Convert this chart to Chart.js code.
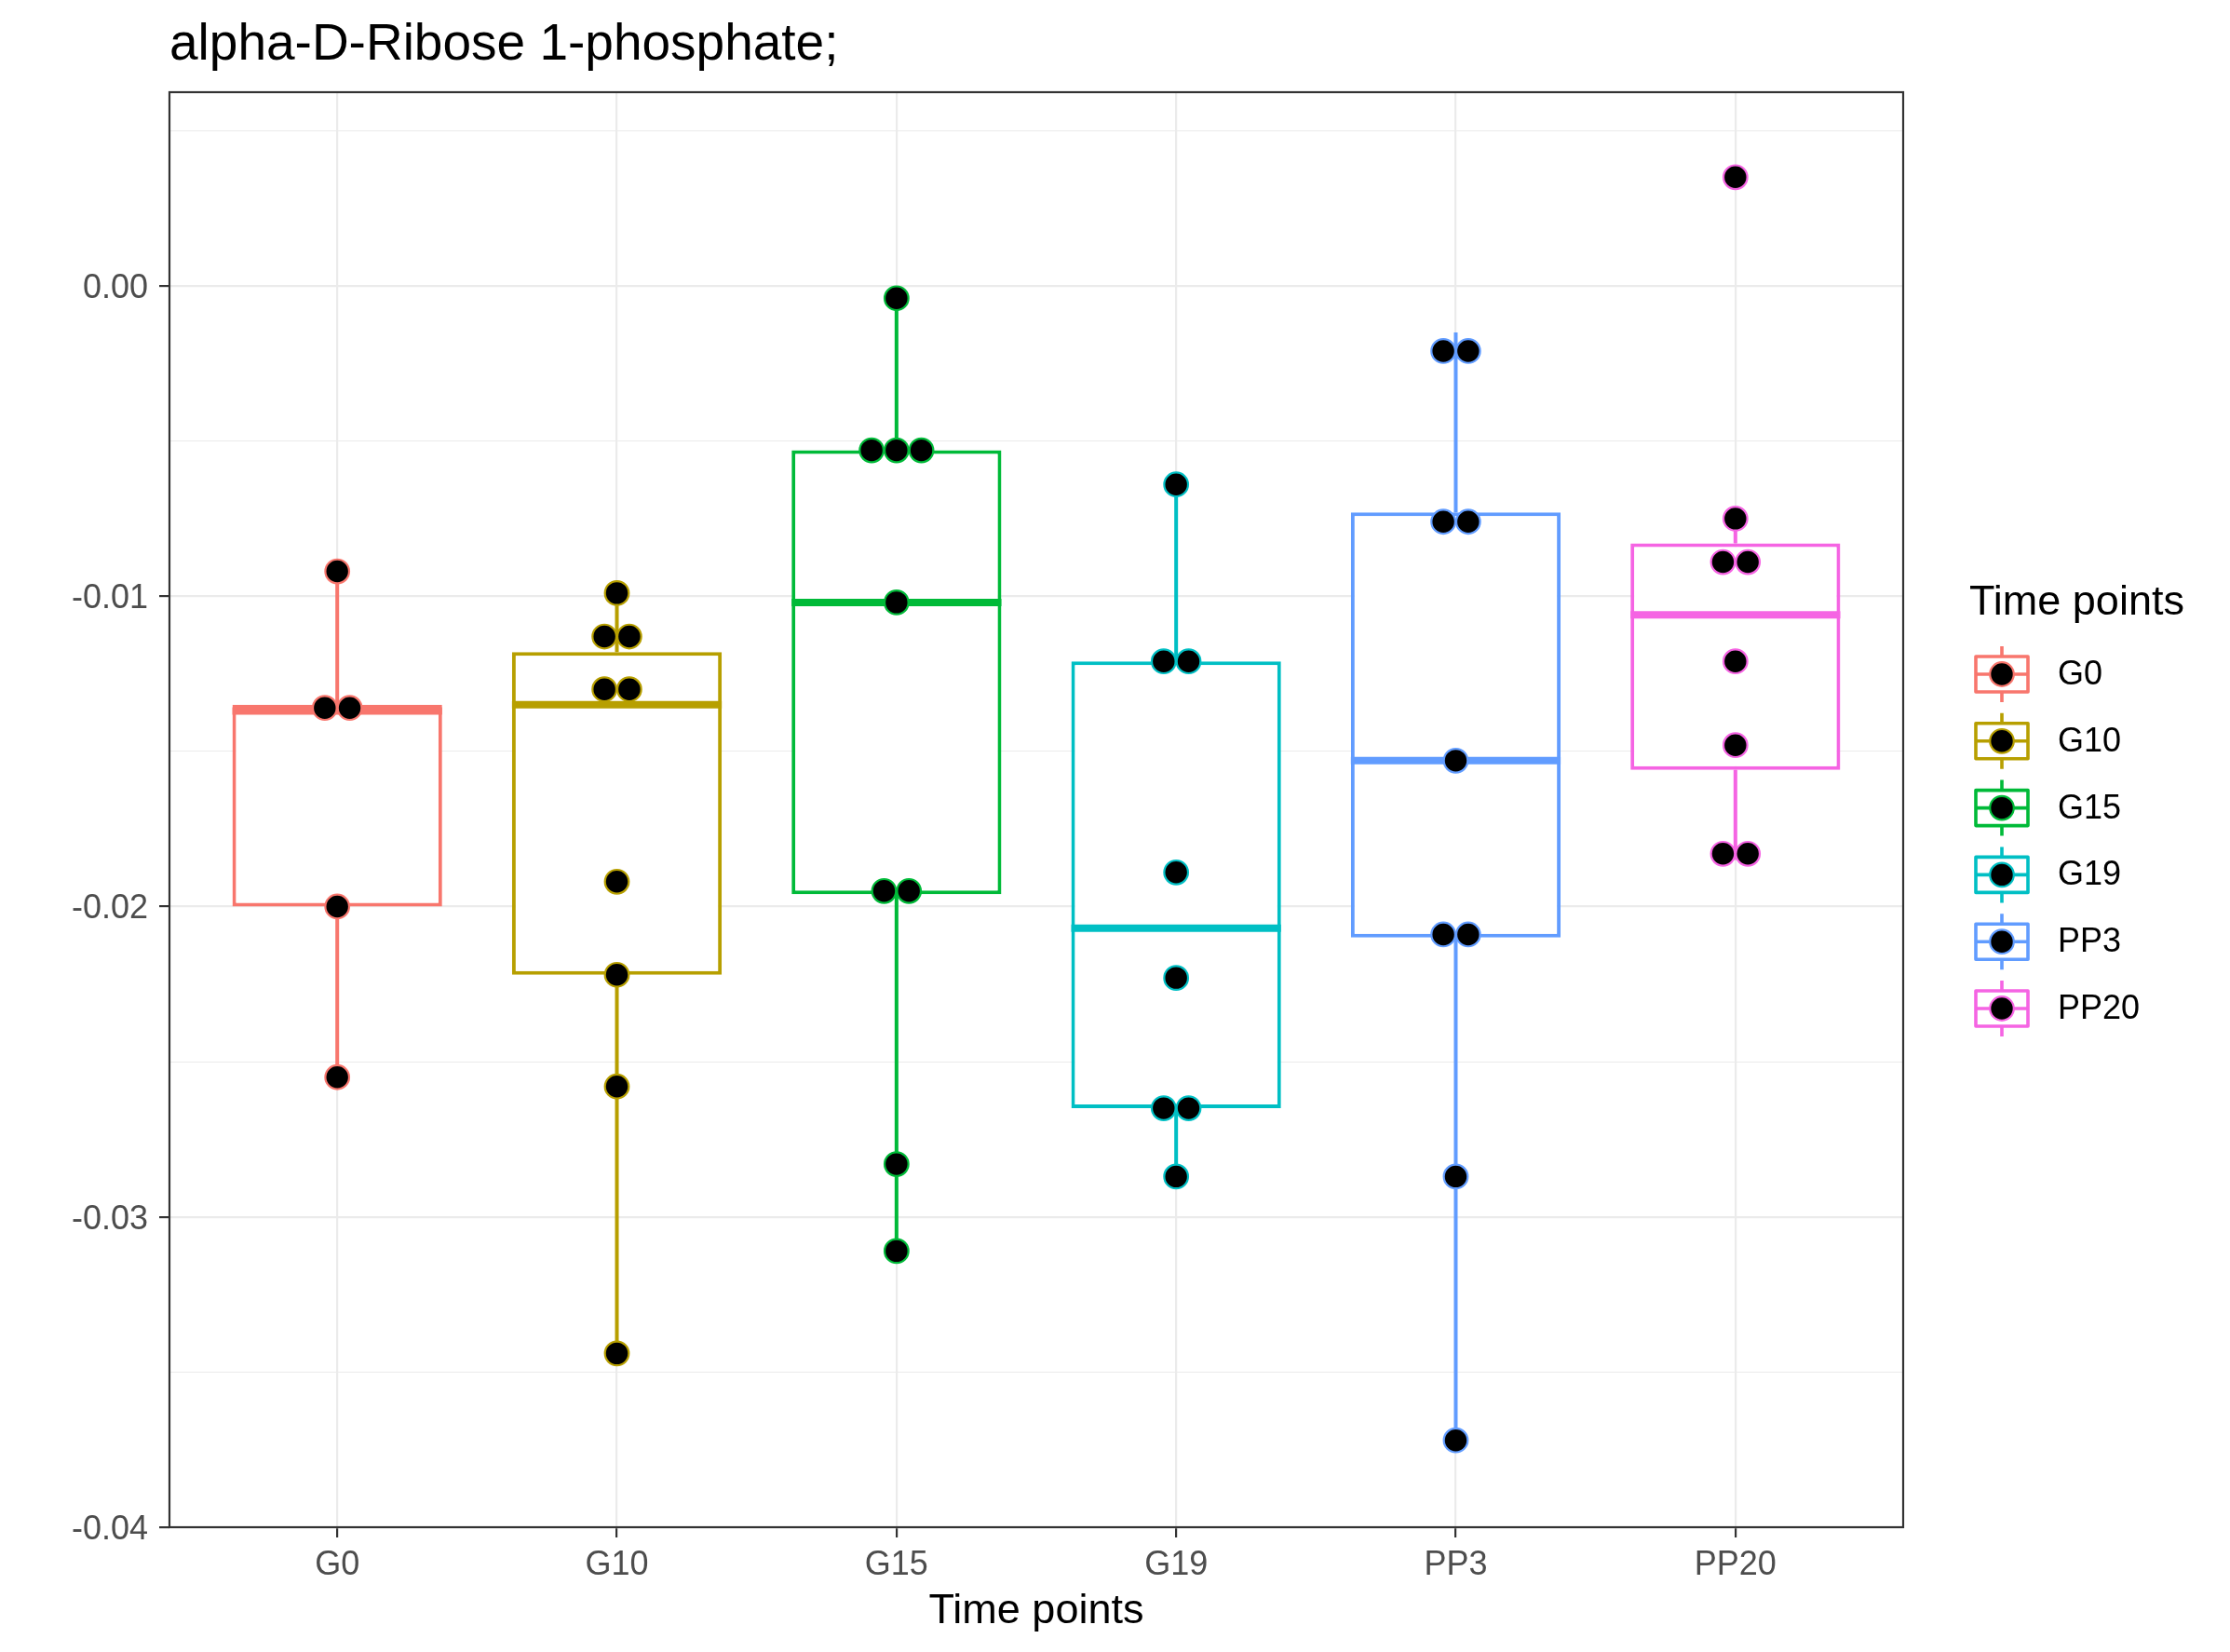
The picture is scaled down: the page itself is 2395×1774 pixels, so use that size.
<!DOCTYPE html>
<html>
<head>
<meta charset="utf-8">
<script src="https://cdn.jsdelivr.net/npm/chart.js@4.4.1/dist/chart.umd.min.js"></script>
<style>
  html, body { margin: 0; padding: 0; background: #fff; }
  #wrap { width: 2395px; height: 1774px; }
</style>
</head>
<body>
<div id="wrap"><canvas id="chart" width="2395" height="1774"></canvas></div>
<script>
const FONT = '"Liberation Sans", Arial, Helvetica, sans-serif';

const categories = ['G0', 'G10', 'G15', 'G19', 'PP3', 'PP20'];
const colors = ['#F8766D', '#B79F00', '#00BA38', '#00BFC4', '#619CFF', '#F564E3'];

// box statistics
const whiskerLow  = [-0.0255, -0.0344, -0.0311, -0.0287, -0.0372, -0.0185];
const q1          = [-0.0200, -0.0222, -0.0196, -0.0265, -0.0210, -0.0156];
const median      = [-0.0137, -0.0135, -0.0102, -0.0207, -0.0153, -0.0106];
const q3          = [-0.0135, -0.0118, -0.0053, -0.0121, -0.0073, -0.0083];
const whiskerHigh = [-0.0092, -0.0099, -0.0004, -0.0064, -0.0015, -0.0075];

// individual samples
const ptsG0   = [-0.0092, -0.0136, -0.0136, -0.0200, -0.0255];
const ptsG10  = [-0.0099, -0.0113, -0.0113, -0.0130, -0.0130, -0.0192, -0.0222, -0.0258, -0.0344];
const ptsG15  = [-0.0004, -0.0053, -0.0053, -0.0053, -0.0102, -0.0195, -0.0195, -0.0283, -0.0311];
const ptsG19  = [-0.0064, -0.0121, -0.0121, -0.0189, -0.0223, -0.0265, -0.0265, -0.0287];
const ptsPP3  = [-0.0021, -0.0021, -0.0076, -0.0076, -0.0153, -0.0209, -0.0209, -0.0287, -0.0372];
const ptsPP20 = [0.0035, -0.0075, -0.0089, -0.0089, -0.0121, -0.0148, -0.0183, -0.0183];
const points = [ptsG0, ptsG10, ptsG15, ptsG19, ptsPP3, ptsPP20];

const yTicks = [0.00, -0.01, -0.02, -0.03, -0.04];

const DODGE = 0.089; // horizontal spacing between tied dots, in category units
const LINE_W = 4;
const MEDIAN_W = 8;

function isMajor(v) {
  return Math.abs(v * 100 - Math.round(v * 100)) < 1e-6;
}

// spread tied values side by side around the category centre
function dodged(vals, i) {
  const counts = {};
  vals.forEach(v => { counts[v] = (counts[v] || 0) + 1; });
  const seen = {};
  return vals.map(v => {
    const n = counts[v];
    const k = seen[v] || 0;
    seen[v] = k + 1;
    return { x: i + (k - (n - 1) / 2) * DODGE, y: v };
  });
}

const boxDataset = {
  type: 'bar',
  data: categories.map((c, i) => ({ x: i, y: [q1[i], q3[i]] })),
  backgroundColor: '#FFFFFF',
  borderColor: colors,
  borderWidth: LINE_W,
  borderSkipped: false,
  barPercentage: 0.75,
  categoryPercentage: 1,
  grouped: false,
  order: 2
};

const pointDatasets = points.map((vals, i) => ({
  type: 'scatter',
  label: categories[i],
  data: dodged(vals, i),
  pointRadius: 12.8,
  pointBorderWidth: 2.2,
  pointBackgroundColor: '#000000',
  pointBorderColor: colors[i],
  showLine: false,
  order: 1
}));

const boxPlugin = {
  id: 'boxExtras',
  beforeDatasetsDraw(chart) {
    const { ctx, scales: { x, y } } = chart;
    ctx.save();
    ctx.lineWidth = LINE_W;
    categories.forEach((c, i) => {
      const px = x.getPixelForValue(i);
      ctx.strokeStyle = colors[i];
      ctx.beginPath();
      ctx.moveTo(px, y.getPixelForValue(q3[i]));
      ctx.lineTo(px, y.getPixelForValue(whiskerHigh[i]));
      ctx.moveTo(px, y.getPixelForValue(q1[i]));
      ctx.lineTo(px, y.getPixelForValue(whiskerLow[i]));
      ctx.stroke();
    });
    ctx.restore();
  },
  afterDatasetDraw(chart, args) {
    if (args.meta.type !== 'bar') return;
    const { ctx, scales: { y } } = chart;
    ctx.save();
    ctx.lineWidth = MEDIAN_W;
    args.meta.data.forEach((el, i) => {
      const py = y.getPixelForValue(median[i]);
      ctx.strokeStyle = colors[i];
      ctx.beginPath();
      ctx.moveTo(el.x - el.width / 2, py);
      ctx.lineTo(el.x + el.width / 2, py);
      ctx.stroke();
    });
    ctx.restore();
  },
  afterDraw(chart) {
    const { ctx, chartArea: a } = chart;
    ctx.save();
    // panel border
    ctx.strokeStyle = '#333333';
    ctx.lineWidth = 2.2;
    ctx.strokeRect(a.left, a.top, a.right - a.left, a.bottom - a.top);

    // title
    ctx.fillStyle = '#000000';
    ctx.font = '55px ' + FONT;
    ctx.textAlign = 'left';
    ctx.textBaseline = 'alphabetic';
    ctx.fillText('alpha-D-Ribose 1-phosphate;', a.left, 64);

    // x axis title
    ctx.font = '45px ' + FONT;
    ctx.textAlign = 'center';
    ctx.fillText('Time points', (a.left + a.right) / 2, 1743);

    // legend
    ctx.textAlign = 'left';
    ctx.fillText('Time points', 2115, 660);
    ctx.font = '36px ' + FONT;
    ctx.textBaseline = 'middle';
    categories.forEach((c, i) => {
      const cy = 724 + i * 71.8;
      const cx = 2150;
      ctx.strokeStyle = colors[i];
      ctx.lineWidth = 3.6;
      ctx.lineJoin = 'round';
      ctx.beginPath();
      ctx.moveTo(cx, cy - 30); ctx.lineTo(cx, cy - 19);
      ctx.moveTo(cx, cy + 19); ctx.lineTo(cx, cy + 30);
      ctx.moveTo(cx - 28, cy); ctx.lineTo(cx + 28, cy);
      ctx.stroke();
      ctx.strokeRect(cx - 28, cy - 19, 56, 38);
      ctx.beginPath();
      ctx.arc(cx, cy, 12.8, 0, Math.PI * 2);
      ctx.fillStyle = '#000000';
      ctx.fill();
      ctx.lineWidth = 2.2;
      ctx.stroke();
      ctx.fillStyle = '#000000';
      ctx.fillText(c, 2210, cy + 1);
    });
    ctx.restore();
  }
};

new Chart(document.getElementById('chart').getContext('2d'), {
  type: 'scatter',
  data: { datasets: [boxDataset, ...pointDatasets] },
  options: {
    responsive: false,
    animation: false,
    events: [],
    layout: { padding: { top: 99, right: 351, left: 0, bottom: 0 } },
    plugins: { legend: { display: false }, tooltip: { enabled: false }, title: { display: false } },
    scales: {
      x: {
        type: 'linear',
        min: -0.6,
        max: 5.6,
        offset: false,
        afterBuildTicks: s => { s.ticks = categories.map((c, i) => ({ value: i })); },
        afterFit: s => { s.height = 134; },
        ticks: {
          callback: v => categories[v],
          color: '#4D4D4D',
          font: { family: FONT, size: 36 },
          padding: 8,
          autoSkip: false,
          maxRotation: 0
        },
        grid: {
          color: '#EBEBEB',
          lineWidth: 2.2,
          tickLength: 11,
          tickColor: '#333333',
          tickWidth: 2.2,
          offset: false
        },
        border: { display: false }
      },
      y: {
        min: -0.04,
        max: 0.00624,
        afterFit: s => { s.width = 182; },
        afterBuildTicks: s => {
          const t = [];
          for (let k = 0; k <= 9; k++) t.push({ value: -0.04 + k * 0.005 });
          s.ticks = t;
        },
        ticks: {
          callback: v => isMajor(v) && yTicks.some(t => Math.abs(t - v) < 1e-9) ? (Math.abs(v) < 1e-9 ? '0.00' : v.toFixed(2)) : '',
          color: '#4D4D4D',
          font: { family: FONT, size: 36 },
          padding: 12,
          labelOffset: 3,
          autoSkip: false
        },
        grid: {
          color: '#EBEBEB',
          lineWidth: c => isMajor(c.tick.value) ? 2.2 : 1.1,
          tickLength: 11,
          tickColor: c => isMajor(c.tick.value) ? '#333333' : 'rgba(0,0,0,0)',
          tickWidth: 2.2
        },
        border: { display: false }
      }
    }
  },
  plugins: [boxPlugin]
});
</script>
</body>
</html>
